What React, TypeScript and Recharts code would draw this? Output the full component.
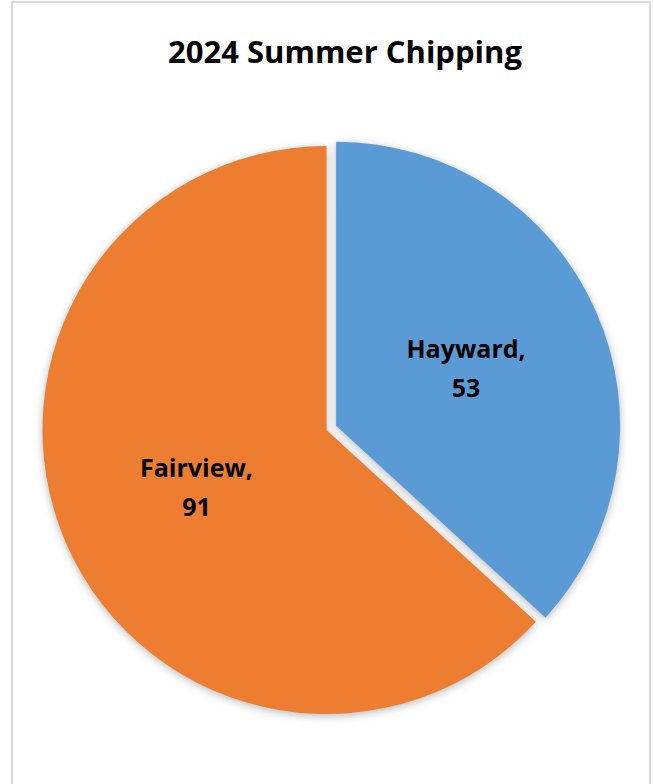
import React from "react";
import { PieChart, Pie, Cell } from "recharts";

// chart values
const regions = ["Hayward", "Fairview"];
const loads = [53, 91];
const sliceColors = ["#5B9BD5", "#ED7D31"];

const chartData = regions.map((name, i) => ({ name, value: loads[i] }));

const WIDTH = 654;
const HEIGHT = 784;
const CX = 326.5;
const CY = 430;
const RADIUS = 284;
const EXPLODE = 10.5; // Hayward slice is pulled out a bit

const total = loads.reduce((a, b) => a + b, 0);
const haywardMid = ((90 - (loads[0] / total) * 180) * Math.PI) / 180;
const haywardCx = CX + EXPLODE * Math.cos(haywardMid);
const haywardCy = CY - EXPLODE * Math.sin(haywardMid);

const FONT = "'Open Sans', 'Noto Sans', sans-serif";
const RAD = Math.PI / 180;

function makeLabel(only: number) {
  return (props: any) => {
    const { cx, cy, midAngle, outerRadius, index, name, value } = props;
    if (index !== only) return null;
    const r = outerRadius * 0.5;
    const x = cx + r * Math.cos(-midAngle * RAD);
    const y = cy + r * Math.sin(-midAngle * RAD);
    const lineH = 39;
    const base1 = y - (lineH - 18) / 2;
    return (
      <text
        x={x}
        y={base1}
        textAnchor="middle"
        fill="#000"
        fontFamily={FONT}
        fontWeight={700}
        fontSize={25}
      >
        <tspan x={x}>{name},</tspan>
        <tspan x={x} dy={lineH}>
          {value}
        </tspan>
      </text>
    );
  };
}

export default function App() {
  return (
    <div style={{ position: "absolute", left: 0, top: 0, width: WIDTH, height: HEIGHT, overflow: "hidden", background: "#fff" }}>
      <style>{`.slice-shadow { filter: drop-shadow(0px 2px 4px rgba(0,0,0,0.28)); }`}</style>
      <div
        style={{
          position: "absolute",
          left: 11,
          top: 1,
          width: 636,
          height: 820,
          border: "2px solid #D9D9D9",
        }}
      />
      <div
        style={{
          position: "absolute",
          left: 0,
          width: 690,
          top: 30,
          textAlign: "center",
          fontFamily: FONT,
          fontWeight: 700,
          fontSize: 31,
          lineHeight: "42px",
          color: "#000",
        }}
      >
        2024 Summer Chipping
      </div>
      <div style={{ position: "absolute", left: 0, top: 0 }}>
        <PieChart width={WIDTH} height={HEIGHT} margin={{ top: 0, right: 0, bottom: 0, left: 0 }}>
          <Pie
            data={chartData}
            dataKey="value"
            nameKey="name"
            cx={CX}
            cy={CY}
            outerRadius={RADIUS}
            startAngle={90}
            endAngle={-270}
            stroke="none"
            labelLine={false}
            label={makeLabel(1)}
            isAnimationActive={false}
          >
            {chartData.map((d, i) => (
              <Cell
                key={d.name}
                fill={i === 1 ? sliceColors[i] : "none"}
                className={i === 1 ? "slice-shadow" : undefined}
              />
            ))}
          </Pie>
          <Pie
            data={chartData}
            dataKey="value"
            nameKey="name"
            cx={haywardCx}
            cy={haywardCy}
            outerRadius={RADIUS}
            startAngle={90}
            endAngle={-270}
            stroke="none"
            labelLine={false}
            label={makeLabel(0)}
            isAnimationActive={false}
          >
            {chartData.map((d, i) => (
              <Cell
                key={d.name}
                fill={i === 0 ? sliceColors[i] : "none"}
                className={i === 0 ? "slice-shadow" : undefined}
              />
            ))}
          </Pie>
        </PieChart>
      </div>
    </div>
  );
}
